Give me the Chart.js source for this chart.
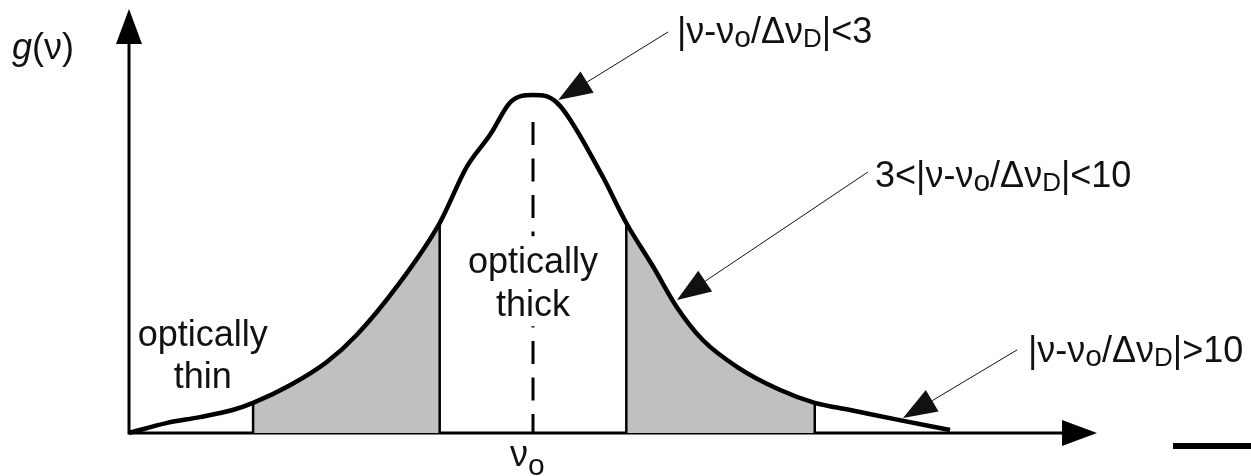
<!DOCTYPE html>
<html>
<head>
<meta charset="utf-8">
<title>g(ν) line profile</title>
<script src="https://cdn.jsdelivr.net/npm/chart.js@4.4.0/dist/chart.umd.min.js"></script>
<style>
  html, body { margin: 0; padding: 0; background: #fff; }
  canvas { display: block; }
</style>
</head>
<body>
<canvas id="profileChart" width="1251" height="476"></canvas>
<script>
// frequency offset from line centre (arbitrary units) and profile g(nu), peak = 1
var nuOffset = [-4.33, -3.92, -3.57, -3.22, -3.00, -2.60, -2.21, -1.89, -1.43, -1.00,
                -0.71, -0.46, -0.25, -0.12, 0.00, 0.13, 0.26, 0.40, 0.75, 1.00,
                1.29, 1.54, 1.82, 2.19, 2.65, 3.02, 3.40, 3.93, 4.47];
var gProfile = [0.000, 0.030, 0.047, 0.068, 0.089, 0.142, 0.210, 0.290, 0.444, 0.621,
                0.787, 0.882, 0.976, 0.997, 1.000, 0.997, 0.976, 0.926, 0.757, 0.621,
                0.491, 0.373, 0.275, 0.195, 0.127, 0.089, 0.068, 0.038, 0.009];

// edges of the shaded wing regions
var wingEdges = [-3.00, -1.00, 1.00, 3.02];
var centreDashTop = 0.92;

// region labels: text lines, centre x, baselines
var regionText = [['optically', 'thin'], ['optically', 'thick']];
var regionX = [-3.54, 0.0];
var regionBase = [[0.257, 0.133], [0.473, 0.346]];

// annotations ('_' marks the next char as subscript)
var noteText = ['|ν-ν_o/Δν_D|<3', '3<|ν-ν_o/Δν_D|<10', '|ν-ν_o/Δν_D|>10'];
var noteAt = [[1.543, 1.154], [3.666, 0.728], [5.305, 0.210]];
var arrowTail = [[1.447, 1.186], [3.59, 0.772], [5.19, 0.246]];
var arrowTip = [[0.27, 0.985], [1.543, 0.393], [3.966, 0.044]];

var FONT = '"Liberation Sans", Arial, Helvetica, sans-serif';
var INK = '#111';

function profilePoints(lo, hi){
    var pts = [];
    nuOffset.forEach(function(x, i){
        if(x >= lo - 1e-6 && x <= hi + 1e-6){ pts.push({x: x, y: gProfile[i]}); }
    });
    return pts;
}

function gAt(x){
    var i = nuOffset.indexOf(x);
    return gProfile[i];
}

function drawRich(ctx, str, x, y, size, subDy){
    var cx = x;
    for(var i = 0; i < str.length; i++){
        var ch = str[i], s = size, dy = 0;
        if(ch === '_'){
            ch = str[++i];
            s = ch === 'o' ? 30 : 26;
            dy = subDy;
        }
        ctx.font = s + 'px ' + FONT;
        ctx.fillText(ch, cx, y + dy);
        cx += ctx.measureText(ch).width;
    }
}

function arrow(ctx, x0, y0, x1, y1){
    var ang = Math.atan2(y1 - y0, x1 - x0);
    var len = 34, half = 12.5;
    var bx = x1 - len * Math.cos(ang), by = y1 - len * Math.sin(ang);
    ctx.lineWidth = 1;
    ctx.beginPath();
    ctx.moveTo(x0, y0);
    ctx.lineTo(bx, by);
    ctx.stroke();
    ctx.beginPath();
    ctx.moveTo(x1, y1);
    ctx.lineTo(bx + half * Math.sin(ang), by - half * Math.cos(ang));
    ctx.lineTo(bx - half * Math.sin(ang), by + half * Math.cos(ang));
    ctx.closePath();
    ctx.fill();
}

var axesPlugin = {
    id: 'axesArrows',
    beforeDatasetsDraw: function(chart){
        var ctx = chart.ctx, a = chart.chartArea;
        ctx.save();
        ctx.strokeStyle = '#000';
        ctx.fillStyle = '#000';
        ctx.lineWidth = 3;
        ctx.beginPath();
        ctx.moveTo(a.left, a.bottom + 1.5);
        ctx.lineTo(a.left, a.top + 35);
        ctx.moveTo(a.left - 1.5, a.bottom);
        ctx.lineTo(a.right - 35, a.bottom);
        ctx.stroke();
        ctx.beginPath();
        ctx.moveTo(a.left, a.top);
        ctx.lineTo(a.left - 13, a.top + 35);
        ctx.lineTo(a.left + 13, a.top + 35);
        ctx.closePath();
        ctx.fill();
        ctx.beginPath();
        ctx.moveTo(a.right, a.bottom);
        ctx.lineTo(a.right - 35, a.bottom - 13);
        ctx.lineTo(a.right - 35, a.bottom + 13);
        ctx.closePath();
        ctx.fill();
        ctx.restore();
    },
    afterDatasetsDraw: function(chart){
        var ctx = chart.ctx, a = chart.chartArea;
        var xs = chart.scales.x, ys = chart.scales.y;
        ctx.save();
        ctx.fillStyle = INK;
        ctx.strokeStyle = INK;
        ctx.textBaseline = 'alphabetic';

        // white box behind "optically thick"
        ctx.fillStyle = '#fff';
        ctx.fillRect(xs.getPixelForValue(0) - 70, ys.getPixelForValue(0.582), 140, 90);
        ctx.fillStyle = INK;

        ctx.textAlign = 'center';
        ctx.font = '36px ' + FONT;
        regionText.forEach(function(lines, i){
            var px = xs.getPixelForValue(regionX[i]);
            ctx.fillText(lines[0], px, ys.getPixelForValue(regionBase[i][0]));
            ctx.fillText(lines[1], px, ys.getPixelForValue(regionBase[i][1]));
        });

        ctx.textAlign = 'left';
        noteText.forEach(function(t, i){
            drawRich(ctx, t, xs.getPixelForValue(noteAt[i][0]), ys.getPixelForValue(noteAt[i][1]), 36, 4);
            arrow(ctx, xs.getPixelForValue(arrowTail[i][0]), ys.getPixelForValue(arrowTail[i][1]),
                       xs.getPixelForValue(arrowTip[i][0]), ys.getPixelForValue(arrowTip[i][1]));
        });

        // axis labels
        ctx.font = 'italic 36px ' + FONT;
        ctx.fillText('g', a.left - 117, a.top + 50);
        var gw = ctx.measureText('g').width;
        ctx.font = '36px ' + FONT;
        ctx.fillText('(ν)', a.left - 117 + gw, a.top + 50);

        var cx = xs.getPixelForValue(0);
        drawRich(ctx, 'ν_o', cx - 23, a.bottom + 33, 36, 9);

        ctx.fillStyle = '#000';
        ctx.fillRect(1173, 443, 78, 6);
        ctx.restore();
    }
};

var datasets = [
    {
        label: 'g(ν)',
        data: profilePoints(-10, 10),
        borderColor: '#000',
        borderWidth: 4.5,
        cubicInterpolationMode: 'monotone',
        pointRadius: 0,
        fill: false,
        order: 0
    },
    {
        label: 'wing left',
        data: profilePoints(wingEdges[0], wingEdges[1]),
        borderWidth: 0,
        borderColor: 'rgba(0,0,0,0)',
        backgroundColor: '#c0c0c0',
        cubicInterpolationMode: 'monotone',
        pointRadius: 0,
        fill: 'origin',
        order: 5
    },
    {
        label: 'wing right',
        data: profilePoints(wingEdges[2], wingEdges[3]),
        borderWidth: 0,
        borderColor: 'rgba(0,0,0,0)',
        backgroundColor: '#c0c0c0',
        cubicInterpolationMode: 'monotone',
        pointRadius: 0,
        fill: 'origin',
        order: 5
    },
    {
        label: 'centre',
        data: [{x: 0, y: centreDashTop}, {x: 0, y: 0}],
        borderColor: '#000',
        borderWidth: 3,
        borderDash: [23, 13.5],
        pointRadius: 0,
        fill: false,
        order: 2
    }
];

wingEdges.forEach(function(e){
    datasets.push({
        label: 'edge',
        data: [{x: e, y: 0}, {x: e, y: gAt(e)}],
        borderColor: '#000',
        borderWidth: 2.5,
        pointRadius: 0,
        fill: false,
        order: 1
    });
});

datasets.forEach(function(d){ d.clip = false; });

var chart = new Chart(document.getElementById('profileChart').getContext('2d'), {
    type: 'line',
    data: { datasets: datasets },
    options: {
        responsive: false,
        animation: false,
        layout: { padding: { left: 129, right: 154, top: 9, bottom: 43 } },
        plugins: { legend: { display: false }, tooltip: { enabled: false } },
        scales: {
            x: { type: 'linear', min: -4.33, max: 6.045, display: false },
            y: { type: 'linear', min: 0, max: 1.254, display: false }
        }
    },
    plugins: [axesPlugin]
});
</script>
</body>
</html>
